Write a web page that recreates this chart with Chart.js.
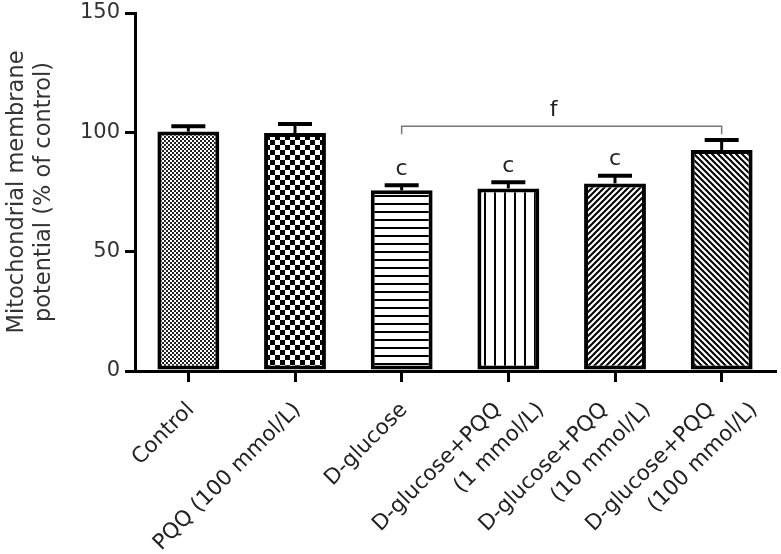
<!DOCTYPE html>
<html>
<head>
<meta charset="utf-8">
<script src="https://cdn.jsdelivr.net/npm/chart.js@4.4.1/dist/chart.umd.min.js"></script>
<style>
  html, body { margin: 0; padding: 0; background: #fff; }
  #wrap { width: 781px; height: 554px; }
</style>
</head>
<body>
<div id="wrap"><canvas id="mmp"></canvas></div>
<script>
// Values.
const groups = [
    'Control',
    'PQQ (100 mmol/L)',
    'D-glucose',
    ['D-glucose+PQQ', '(1 mmol/L)'],
    ['D-glucose+PQQ', '(10 mmol/L)'],
    ['D-glucose+PQQ', '(100 mmol/L)']
];
const means = [100.3, 99.7, 75.7, 76.5, 78.6, 92.6];
const sems = [2.3, 3.8, 2.1, 2.6, 3.2, 4.2];
const marks = ['', '', 'c', 'c', 'c', ''];
const yTicks = [0, 50, 100, 150];

// bracket for "f" goes from D-glucose to the 100 mmol/L group
const bracketFrom = 2, bracketTo = 5, bracketLevel = 102.6, bracketLabel = 'f';

const labelFont = '21.5px "DejaVu Sans"';

// Builds the little tiles used as bar fills.
function tile(w, h, draw) {
    let c = document.createElement('canvas');
    c.width = w; c.height = h;
    let g = c.getContext('2d');
    g.fillStyle = '#fff';
    g.fillRect(0, 0, w, h);
    g.fillStyle = '#000';
    g.strokeStyle = '#000';
    draw(g);
    return g.createPattern(c, 'repeat');
}

let fills = [
    tile(4, 4, g => { g.fillStyle = '#222'; g.fillRect(0, 0, 2, 2); g.fillRect(2, 2, 2, 2); }),
    tile(10, 10, g => { g.fillRect(0, 0, 5, 5); g.fillRect(5, 5, 5, 5); }),
    tile(8, 8, g => { g.fillRect(0, 3, 8, 2); }),
    tile(10, 10, g => { g.fillRect(4, 0, 2, 10); }),
    tile(6, 6, g => {
        g.lineWidth = 2;
        g.beginPath();
        g.moveTo(-1, 7); g.lineTo(7, -1);
        g.moveTo(-4, 4); g.lineTo(4, -4);
        g.moveTo(2, 10); g.lineTo(10, 2);
        g.stroke();
    }),
    tile(6, 6, g => {
        g.lineWidth = 2;
        g.beginPath();
        g.moveTo(-1, -1); g.lineTo(7, 7);
        g.moveTo(-4, 2); g.lineTo(4, 10);
        g.moveTo(2, -4); g.lineTo(10, 4);
        g.stroke();
    })
];

// Category labels drawn by hand, so the two-line ones can sit like in the original.
const categoryLabels = {
    id: 'categoryLabels',
    afterDraw(chart) {
        let ctx = chart.ctx;
        let x = chart.scales.x, y = chart.scales.y;
        let top = y.getPixelForValue(0) + 28;
        ctx.save();
        ctx.fillStyle = '#222';
        ctx.font = labelFont;
        ctx.textAlign = 'right';
        ctx.textBaseline = 'top';
        groups.forEach((g, i) => {
            let lines = Array.isArray(g) ? g : [g];
            let shifts = lines.length > 1 ? [-13, 30] : [0];
            lines.forEach((line, k) => {
                ctx.save();
                ctx.translate(x.getPixelForValue(i) - 5 + shifts[k], top);
                ctx.rotate(-Math.PI / 4);
                ctx.fillText(line, 0, 0);
                ctx.restore();
            });
        });
        ctx.restore();
    }
};

// Error bars (upper half only), significance letters and the bracket.
const extras = {
    id: 'extras',
    afterDatasetsDraw(chart) {
        let ctx = chart.ctx;
        let x = chart.scales.x, y = chart.scales.y;
        ctx.save();
        ctx.strokeStyle = '#000';
        for (let i = 0; i < means.length; i++) {
            let cx = x.getPixelForValue(i);
            let top = y.getPixelForValue(means[i] + sems[i]);
            ctx.lineWidth = 3;
            ctx.beginPath();
            ctx.moveTo(cx, y.getPixelForValue(means[i]));
            ctx.lineTo(cx, top);
            ctx.stroke();
            ctx.lineWidth = 4;
            ctx.beginPath();
            ctx.moveTo(cx - 17, top);
            ctx.lineTo(cx + 17, top);
            ctx.stroke();
            if (marks[i]) {
                ctx.fillStyle = '#222';
                ctx.font = '22px "DejaVu Sans"';
                ctx.textAlign = 'center';
                ctx.textBaseline = 'bottom';
                ctx.fillText(marks[i], cx, top - 5);
            }
        }
        // bracket
        let x1 = x.getPixelForValue(bracketFrom), x2 = x.getPixelForValue(bracketTo);
        let by = y.getPixelForValue(bracketLevel);
        ctx.strokeStyle = '#777';
        ctx.lineWidth = 1.5;
        ctx.beginPath();
        ctx.moveTo(x1, by + 8);
        ctx.lineTo(x1, by);
        ctx.lineTo(x2, by);
        ctx.lineTo(x2, by + 8);
        ctx.stroke();
        ctx.fillStyle = '#222';
        ctx.font = '22px "DejaVu Sans"';
        ctx.textAlign = 'center';
        ctx.textBaseline = 'bottom';
        ctx.fillText(bracketLabel, (x1 + x2) / 2 - 8, by - 5);
        ctx.restore();
    }
};

let mmpChart = new Chart(document.getElementById('mmp'), {
    type: 'bar',
    data: {
        labels: groups,
        datasets: [{
            data: means,
            backgroundColor: fills,
            borderColor: '#000',
            borderWidth: 4,
            borderSkipped: false,
            categoryPercentage: 1,
            barPercentage: 0.58
        }]
    },
    options: {
        responsive: true,
        maintainAspectRatio: false,
        animation: false,
        layout: { padding: { top: 13, right: 6, left: 0, bottom: 0 } },
        plugins: {
            legend: { display: false },
            tooltip: { enabled: false }
        },
        scales: {
            x: {
                offset: true,
                grid: { display: true, offset: false, drawOnChartArea: false, color: '#000', lineWidth: 3, tickLength: 11 },
                border: { display: true, color: '#000', width: 3 },
                ticks: {
                    autoSkip: false,
                    maxRotation: 0,
                    callback: () => ''
                },
                afterFit(scale) { scale.height = 183; }
            },
            y: {
                min: 0,
                max: 150,
                afterBuildTicks(scale) { scale.ticks = yTicks.map(v => ({ value: v })); },
                grid: { display: true, drawOnChartArea: false, color: '#000', lineWidth: 3, tickLength: 10 },
                border: { display: true, color: '#000', width: 3 },
                ticks: {
                    color: '#333',
                    font: { family: 'DejaVu Sans', size: 21, lineHeight: 1 },
                    padding: 5
                },
                title: {
                    display: true,
                    text: ['Mitochondrial membrane', 'potential (% of control)'],
                    color: '#333',
                    font: { family: 'DejaVu Sans', size: 22.5, lineHeight: 1.2 },
                    padding: { top: 4, bottom: 8 }
                },
                afterFit(scale) {
                    scale.width = 135;
                    scale.paddingTop = 0;
                    scale.paddingBottom = 0;
                }
            }
        }
    },
    plugins: [extras, categoryLabels]
});
</script>
</body>
</html>
